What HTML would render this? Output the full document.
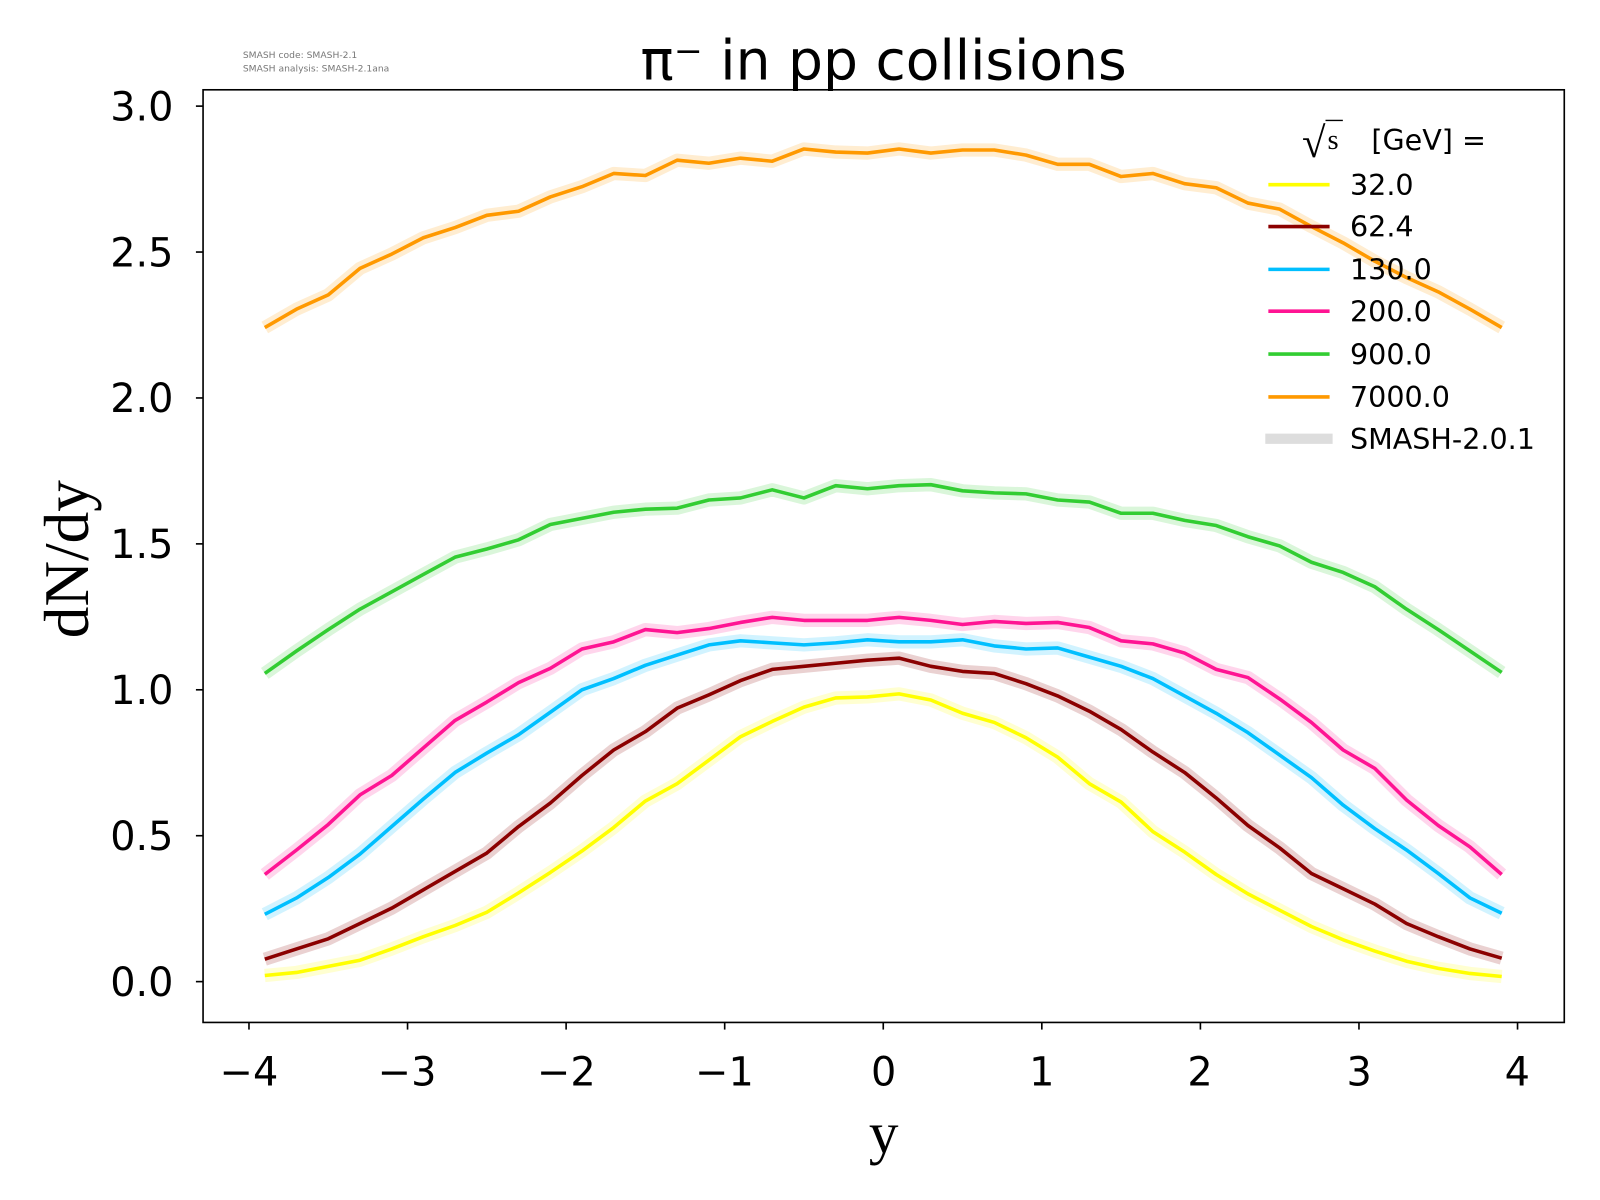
<!DOCTYPE html>
<html><head><meta charset="utf-8"><style>body{margin:0;background:#fff}svg{display:block}text{font-family:"DejaVu Sans","Liberation Sans",sans-serif}</style></head>
<body>
<svg id="s" width="1600" height="1200" viewBox="0 0 1600 1200" xmlns="http://www.w3.org/2000/svg">
<rect width="1600" height="1200" fill="#fff"/>
<g transform="scale(1.0204)">
<text x="238" y="57" font-size="9" fill="#777">SMASH code:      SMASH-2.1</text>
<text x="238" y="70" font-size="9" fill="#777">SMASH analysis: SMASH-2.1ana</text>
<text x="866" y="78" font-size="54" text-anchor="middle">π⁻ in pp collisions</text>
<g id="series"></g>
<rect x="199" y="88" width="1334" height="914" fill="none" stroke="#000" stroke-width="1.6"/>
<g stroke="#000" stroke-width="1.6">
<line x1="192" y1="962" x2="199" y2="962"/><line x1="192" y1="819" x2="199" y2="819"/><line x1="192" y1="676" x2="199" y2="676"/><line x1="192" y1="533" x2="199" y2="533"/><line x1="192" y1="390" x2="199" y2="390"/><line x1="192" y1="247" x2="199" y2="247"/><line x1="192" y1="104" x2="199" y2="104"/>
<line x1="244" y1="1002" x2="244" y2="1009"/><line x1="399.4" y1="1002" x2="399.4" y2="1009"/><line x1="554.8" y1="1002" x2="554.8" y2="1009"/><line x1="710.2" y1="1002" x2="710.2" y2="1009"/><line x1="865.6" y1="1002" x2="865.6" y2="1009"/><line x1="1021" y1="1002" x2="1021" y2="1009"/><line x1="1176.4" y1="1002" x2="1176.4" y2="1009"/><line x1="1331.8" y1="1002" x2="1331.8" y2="1009"/><line x1="1487.2" y1="1002" x2="1487.2" y2="1009"/>
</g>
<g font-size="39" text-anchor="end">
<text x="170" y="976">0.0</text><text x="170" y="833">0.5</text><text x="170" y="690">1.0</text><text x="170" y="547">1.5</text><text x="170" y="404">2.0</text><text x="170" y="261">2.5</text><text x="170" y="118">3.0</text>
</g>
<g font-size="39" text-anchor="middle">
<text x="244" y="1064">−4</text><text x="399" y="1064">−3</text><text x="555" y="1064">−2</text><text x="710" y="1064">−1</text><text x="866" y="1064">0</text><text x="1021" y="1064">1</text><text x="1176" y="1064">2</text><text x="1332" y="1064">3</text><text x="1487" y="1064">4</text>
</g>
<text x="866" y="1130" font-size="58" text-anchor="middle" style="font-family:'Liberation Serif',serif">y</text>
<text transform="translate(86,548) rotate(-90)" font-size="62" text-anchor="middle" style="font-family:'Liberation Serif',serif">dN/dy</text>
<text x="1276" y="154" font-size="42" style="font-family:'Liberation Serif',serif">√</text>
<text x="1301" y="146" font-size="28" style="font-family:'Liberation Serif',serif">s</text>
<line x1="1299" y1="118" x2="1316" y2="118" stroke="#000" stroke-width="1.3"/>
<text x="1344" y="147" font-size="28">[GeV] =</text>
<g stroke-width="3.5">
<line x1="1243" y1="181" x2="1303" y2="181" stroke="#ffff00"/>
<line x1="1243" y1="222" x2="1303" y2="222" stroke="#8b0000"/>
<line x1="1243" y1="264" x2="1303" y2="264" stroke="#00bfff"/>
<line x1="1243" y1="305" x2="1303" y2="305" stroke="#ff1493"/>
<line x1="1243" y1="347" x2="1303" y2="347" stroke="#32cd32"/>
<line x1="1243" y1="389" x2="1303" y2="389" stroke="#ff9900"/>
<line x1="1240" y1="430" x2="1306" y2="430" stroke="#dddddd" stroke-width="10"/>
</g>
<g font-size="28">
<text x="1323" y="191">32.0</text><text x="1323" y="232">62.4</text><text x="1323" y="274">130.0</text><text x="1323" y="315">200.0</text><text x="1323" y="357">900.0</text><text x="1323" y="399">7000.0</text><text x="1323" y="440">SMASH-2.0.1</text>
</g>
</g>
</svg>
<script>
var S=[
["#ff9900",[321,303,289,263,249,233,223,211,207,193,183,170,172,157,160,155,158,146,149,150,146,150,147,147,152,161,161,173,170,180,184,199,205,222,238,256,272,286,303,321]],
["#32cd32",[660,638,617,597,580,563,546,538,529,514,508,502,499,498,490,488,480,488,476,479,476,475,481,483,484,490,492,503,503,510,515,526,535,551,561,575,597,617,638,659]],
["#ff1493",[857,833,808,779,760,733,706,688,669,655,636,629,617,620,616,610,605,608,608,608,605,608,612,609,611,610,615,628,631,640,656,664,685,708,735,753,784,809,830,857]],
["#00bfff",[896,880,860,837,810,783,757,738,720,698,676,665,652,642,632,628,630,632,630,627,629,629,627,633,636,635,644,653,665,682,699,718,740,762,789,812,833,856,880,895]],
["#8b0000",[940,930,920,905,890,872,854,836,810,787,760,735,717,694,681,667,656,653,650,647,645,653,658,660,670,682,697,715,737,757,782,809,831,856,871,886,905,918,930,939]],
["#ffff00",[956,953,947,941,930,918,907,894,875,855,834,811,785,768,745,722,707,693,684,683,680,686,699,708,723,742,768,786,815,835,857,876,892,908,921,932,942,949,954,957]]];
var g=document.getElementById("series"),h="";
S.forEach(function(s){var p=s[1].map(function(v,i){return (865.6+(-3.9+0.2*i)*155.4).toFixed(1)+","+v}).join(" ");
h+='<polyline points="'+p+'" fill="none" stroke="'+s[0]+'" stroke-opacity="0.18" stroke-width="13" stroke-linejoin="round"/>';
h+='<polyline points="'+p+'" fill="none" stroke="'+s[0]+'" stroke-width="3.5" stroke-linejoin="round"/>';});
g.innerHTML=h;
</script>
</body></html>
